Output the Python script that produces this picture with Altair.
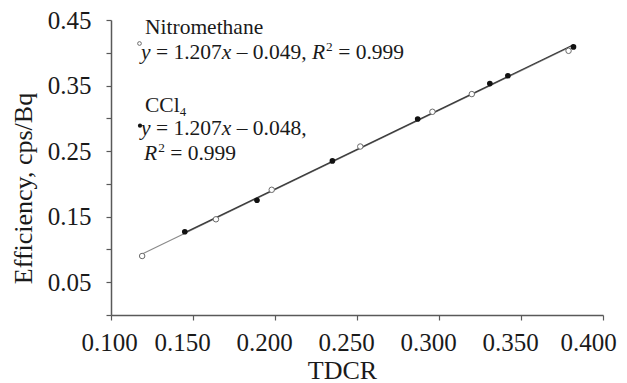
import altair as alt
import pandas as pd

# ---- data ----
series_names = ["Nitromethane", "CCl4"]
nitro_x = [0.119, 0.164, 0.198, 0.252, 0.296, 0.320, 0.379]
nitro_y = [0.090, 0.146, 0.191, 0.257, 0.310, 0.337, 0.403]
ccl4_x = [0.145, 0.189, 0.235, 0.287, 0.331, 0.342, 0.382]
ccl4_y = [0.127, 0.175, 0.235, 0.299, 0.353, 0.365, 0.409]
x_ticks = [0.1, 0.15, 0.2, 0.25, 0.3, 0.35, 0.4]
y_ticks = [0.0, 0.05, 0.1, 0.15, 0.2, 0.25, 0.3, 0.35, 0.4, 0.45]
nitro_eq = ["y", " = 1.207", "x", " \u2013 0.049, ", "R", "2", " = 0.999"]
ccl4_eq1 = ["y", " = 1.207", "x", " \u2013 0.048,"]
ccl4_eq2 = ["R", "2", " = 0.999"]

df = pd.DataFrame({
    "x": nitro_x + ccl4_x,
    "y": nitro_y + ccl4_y,
    "series": [series_names[0]] * len(nitro_x) + [series_names[1]] * len(ccl4_x),
})

FONT = "Liberation Serif"
W, H = 492, 295
PLOT_LEFT, PLOT_TOP = 111, 20  # page coordinates of plot origin

x_enc = alt.X("x:Q", scale=alt.Scale(domain=[0.1, 0.4], nice=False, zero=False),
              axis=alt.Axis(values=x_ticks, labelExpr="format(datum.value, '.3f')",
                            title="TDCR",
                            labelOffset={"condition": [
                                {"test": "datum.value < 0.12", "value": -2},
                                {"test": "datum.value > 0.38", "value": -15}],
                                "value": -11},
                            labelPadding=10,
                            titleX=231, titleY=63.5, titleBaseline="alphabetic",
                            titleAlign="center"))
y_enc = alt.Y("y:Q", scale=alt.Scale(domain=[0, 0.45], nice=False),
              axis=alt.Axis(values=y_ticks,
                            labelExpr="round(datum.value*100) % 10 == 5 ? format(datum.value, '.2f') : ''",
                            title="Efficiency, cps/Bq", labelPadding=15,
                            titleX=-88, titleY=168, titleAlign="center",
                            titleBaseline="middle"))

base = alt.Chart(df)

line_n = base.transform_filter(alt.datum.series == series_names[0]).transform_regression(
    "x", "y").mark_line(color="#8a8a8a", strokeWidth=1.1).encode(x=x_enc, y=y_enc)
line_c = base.transform_filter(alt.datum.series == series_names[1]).transform_regression(
    "x", "y").mark_line(color="#3a3a3a", strokeWidth=1.3).encode(x=x_enc, y=y_enc)
pts_n = base.transform_filter(alt.datum.series == series_names[0]).mark_point(
    shape="circle", filled=True, fill="white", stroke="#6a6a6a", strokeWidth=1,
    size=30, opacity=1).encode(x=x_enc, y=y_enc)
pts_c = base.transform_filter(alt.datum.series == series_names[1]).mark_point(
    shape="circle", filled=True, color="#111111", size=32, opacity=1).encode(x=x_enc, y=y_enc)

# ---- annotation text (Times metrics for layout) ----
REG = {" ": 0.25, "=": 0.564, ".": 0.25, ",": 0.25, "\u2013": 0.5, "C": 0.667, "l": 0.278,
       "N": 0.722, "i": 0.278, "t": 0.278, "r": 0.333, "o": 0.5, "m": 0.778, "e": 0.444,
       "h": 0.5, "a": 0.444, "n": 0.5}
ITA = {"y": 0.444, "x": 0.444, "R": 0.611}


def width(s, size, italic=False):
    tot = 0.0
    for ch in s:
        if ch.isdigit():
            tot += 0.5
        elif italic:
            tot += ITA.get(ch, 0.5)
        else:
            tot += REG.get(ch, 0.5)
    return tot * size


def text_layer(s, px, py, size, italic=False):
    return alt.Chart(alt.Data(values=[{}])).mark_text(
        text=s, font=FONT, fontSize=size, fontStyle="italic" if italic else "normal",
        align="left", baseline="alphabetic", color="#1a1a1a").encode(
        x=alt.value(px - PLOT_LEFT), y=alt.value(py - PLOT_TOP))


def equation(parts, px, py, size):
    layers = []
    cur = px
    for p in parts:
        if p in ("y", "x", "R"):
            layers.append(text_layer(p, cur, py, size, italic=True))
            cur += width(p, size, True)
        elif p == "2":
            s2 = size * 0.62
            layers.append(text_layer(p, cur + 1, py - size * 0.38, s2))
            cur += width(p, s2) + 1
        else:
            lead = len(p) - len(p.lstrip(" "))
            trail = len(p) - len(p.rstrip(" "))
            cur += lead * 0.25 * size
            core = p.strip(" ")
            layers.append(text_layer(core, cur, py, size))
            cur += width(core, size) + trail * 0.25 * size
    return layers


AS = 21.5
ann = []
ann.append(text_layer(series_names[0], 145, 34, AS))
ann += equation(nitro_eq, 141, 59, AS)
ann.append(text_layer("CCl", 145, 112, AS))
ann.append(text_layer("4", 145 + width("CCl", AS), 115.5, AS * 0.6))
ann += equation(ccl4_eq1, 141, 134.5, AS)
ann += equation(ccl4_eq2, 144, 160, AS)

mk_n = alt.Chart(alt.Data(values=[{}])).mark_point(
    shape="circle", filled=True, fill="white", stroke="#6a6a6a", strokeWidth=1,
    size=14, opacity=1).encode(x=alt.value(139.5 - PLOT_LEFT), y=alt.value(43.5 - PLOT_TOP))
mk_c = alt.Chart(alt.Data(values=[{}])).mark_point(
    shape="circle", filled=True, color="#111111", size=18, opacity=1).encode(
    x=alt.value(140 - PLOT_LEFT), y=alt.value(125.7 - PLOT_TOP))

chart = alt.layer(line_n, line_c, pts_n, pts_c, mk_n, mk_c, *ann).properties(
    width=W, height=H,
    padding={"left": PLOT_LEFT - 8, "top": PLOT_TOP - 8, "right": 16, "bottom": 68},
    autosize=alt.AutoSizeParams(type="none"),
).configure_view(stroke=None).configure_axis(
    grid=False, domainColor="#595959", domainWidth=1.5, tickColor="#595959",
    tickWidth=1.2, tickSize=5, labelFont=FONT, labelFontSize=25, labelColor="#1a1a1a",
    titleFont=FONT, titleFontSize=26, titleColor="#1a1a1a", titleFontWeight="normal",
    labelFlush=False, labelOverlap=False,
).configure_text(font=FONT)

chart.save("out.html", embed_options={"renderer": "svg", "actions": False})
